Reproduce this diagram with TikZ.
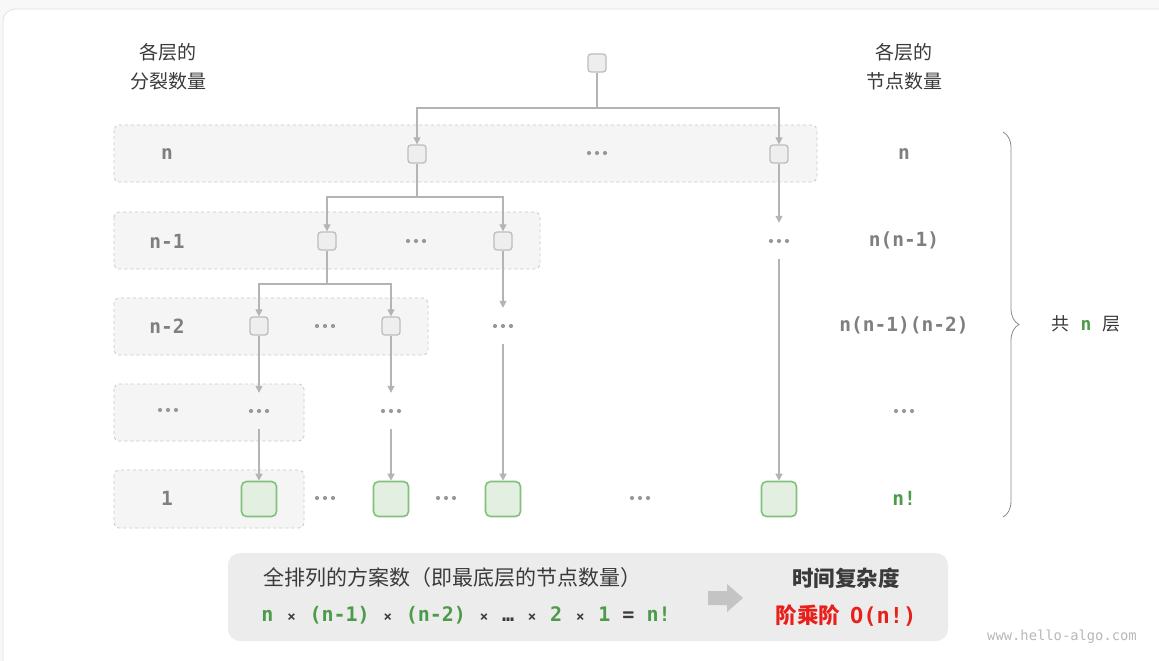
\documentclass[tikz,border=0pt]{standalone}
\usepackage{fontspec}
\setmainfont{Noto Sans CJK SC}
\setmonofont{DejaVu Sans Mono}
\usetikzlibrary{arrows.meta,decorations.pathreplacing,calc}
\definecolor{pagebg}{HTML}{F8F8F8}
\definecolor{framec}{HTML}{E2E2E2}
\definecolor{bandf}{HTML}{F5F5F5}
\definecolor{bandb}{HTML}{C8C8C8}
\definecolor{nodef}{HTML}{EEEEEE}
\definecolor{nodeb}{HTML}{BDBDBD}
\definecolor{leaff}{HTML}{E3EFE1}
\definecolor{leafb}{HTML}{82C17B}
\definecolor{linec}{HTML}{B4B4B4}
\definecolor{lblc}{HTML}{7F7F7F}
\definecolor{grn}{HTML}{4C9B48}
\definecolor{redc}{HTML}{E8201C}
\definecolor{dotc}{HTML}{999999}
\definecolor{boxf}{HTML}{ECECEC}
\definecolor{arrc}{HTML}{C4C4C4}
\definecolor{dark}{HTML}{3A3A3A}
\definecolor{bracec}{HTML}{8A8A8A}
\definecolor{wmc}{HTML}{B8B8B8}
\newcommand{\fmtimes}{\makebox[12pt]{\textcolor{dark}{\fontsize{14}{14}\selectfont ×}}}
\newcommand{\dotsat}[2]{%
  \node[dotsbox] (#1) at (#2) {};
  \foreach \dx in {-8,0,8} \fill[dotc] ($(#1.center)+(\dx,0)$) circle[radius=2.1pt];}
\tikzset{
  smallbox/.style={draw=nodeb, fill=nodef, line width=1.3pt, rounded corners=3pt, minimum size=18pt, inner sep=0pt},
  leafbox/.style={draw=leafb, fill=leaff, line width=1.6pt, rounded corners=5pt, minimum size=35pt, inner sep=0pt},
  band/.style={draw=bandb, dashed, fill=bandf, rounded corners=5pt, line width=0.8pt},
  conn/.style={draw=linec, line width=1.2pt},
  arr/.style={conn, -{Triangle[width=7pt,length=7pt,fill=linec]}},
  dotsbox/.style={inner sep=0pt, minimum width=26pt, minimum height=36pt},
  lbl/.style={font=\fontsize{19.5}{22}\selectfont\ttfamily\bfseries, text=lblc},
  hdr/.style={font=\fontsize{19}{29}\selectfont, text=dark, align=center},
}
\begin{document}
\begin{tikzpicture}[x=1pt,y=-1pt]
\useasboundingbox (0,0) rectangle (1159,661);
\fill[pagebg] (0,0) rectangle (1159,661);
\draw[framec, fill=white, line width=0.8pt, rounded corners=12pt] (3,9) rectangle (1180,690);

% bands
\draw[band] (114,125) rectangle (817,182);
\draw[band] (114,212) rectangle (540,269);
\draw[band] (114,298) rectangle (428,355);
\draw[band] (114,384) rectangle (304,441);
\draw[band] (114,470) rectangle (304,528);

% headers
\node[hdr] (hl) at (168,67) {各层的\\分裂数量};
\node[hdr] (hr) at (904,67) {各层的\\节点数量};

% tree nodes
\node[smallbox] (r) at (597,63) {};
\node[smallbox] (a1) at (417,154) {};
\node[smallbox] (a2) at (779,154) {};
\node[smallbox] (b1) at (327,241) {};
\node[smallbox] (b2) at (503,241) {};
\node[smallbox] (c1) at (259,326) {};
\node[smallbox] (c2) at (391,326) {};
\node[leafbox] (l1) at (259,499) {};
\node[leafbox] (l2) at (391,499) {};
\node[leafbox] (l3) at (503,499) {};
\node[leafbox] (l4) at (779,499) {};

% dots
\dotsat{da}{597,153}
\dotsat{db}{416,241}
\dotsat{dc}{779,241}
\dotsat{dd}{325,326}
\dotsat{de}{503,326}
\dotsat{df}{168,410}
\dotsat{dg}{259,411}
\dotsat{dh}{391,411}
\dotsat{di}{325,498}
\dotsat{dj}{446,498}
\dotsat{dk}{640,498}
\dotsat{dl}{904,411}

% connectors
\coordinate (j0) at (597,108);
\draw[conn] (r.south) -- (j0);
\draw[arr] (j0) -| (a1.north);
\draw[arr] (j0) -| (a2.north);
\coordinate (j1) at (417,197);
\draw[conn] (a1.south) -- (j1);
\draw[arr] (j1) -| (b1.north);
\draw[arr] (j1) -| (b2.north);
\coordinate (j2) at (327,284);
\draw[conn] (b1.south) -- (j2);
\draw[arr] (j2) -| (c1.north);
\draw[arr] (j2) -| (c2.north);
\draw[arr] (a2.south) -- (dc.north);
\draw[arr] (dc.south) -- (l4.north);
\draw[arr] (b2.south) -- (de.north);
\draw[arr] (de.south) -- (l3.north);
\draw[arr] (c1.south) -- (dg.north);
\draw[arr] (dg.south) -- (l1.north);
\draw[arr] (c2.south) -- (dh.north);
\draw[arr] (dh.south) -- (l2.north);

% left labels
\node[lbl] (ln1) at (167,154) {n};
\node[lbl] (ln2) at (167,241) {n-1};
\node[lbl] (ln3) at (167,326) {n-2};
\node[lbl] (ln5) at (167,498) {1};

% right labels
\node[lbl] (rn1) at (904,154) {n};
\node[lbl] (rn2) at (904,240) {n(n-1)};
\node[lbl] (rn3) at (904,325) {n(n-1)(n-2)};
\node[lbl, text=grn] (rn5) at (904,498) {n!};

% brace
\coordinate (bt) at (1003,132);
\coordinate (bb) at (1003,517);
\draw[bracec, line width=0.8pt, decorate, decoration={brace, amplitude=16pt}] (bt) -- (bb);
\node[font=\fontsize{18}{20}\selectfont, text=dark] (tot) at (1086,324)
  {共\hspace{11pt}\textcolor{grn}{\ttfamily\bfseries n}\hspace{11pt}层};

% bottom box
\node[fill=boxf, rounded corners=12pt, minimum width=720pt, minimum height=88pt, inner sep=0pt] (bx) at (588,597) {};
\node[font=\fontsize{21}{24}\selectfont, text=dark] (t1) at (452,578) {全排列的方案数（即最底层的节点数量）};
\node[font=\fontsize{20}{22}\selectfont\ttfamily\bfseries, text=grn] (t2) at (466,615)
  {n~\fmtimes~(n-1)~\fmtimes~(n-2)~\fmtimes~\textcolor{dark}{…}~\fmtimes~2~\fmtimes~1~\textcolor{dark}{=}~n!};
\fill[arrc] (708,591) -- (727,591) -- (727,584) -- (743,598) -- (727,612) -- (727,605) -- (708,605) -- cycle;
\node[font=\fontsize{21.5}{24}\selectfont\bfseries, text=dark] (tc) at (846,578) {时间复杂度};
\node[font=\fontsize{21.5}{24}\selectfont\bfseries, text=redc] (tr) at (846,616) {阶乘阶\hspace{10pt}{\fontsize{22}{24}\selectfont\ttfamily O(n!)}};

% watermark
\node[font=\fontsize{13.8}{15}\selectfont\ttfamily, text=wmc] (wm) at (1062,637) {www.hello-algo.com};
\end{tikzpicture}
\end{document}
